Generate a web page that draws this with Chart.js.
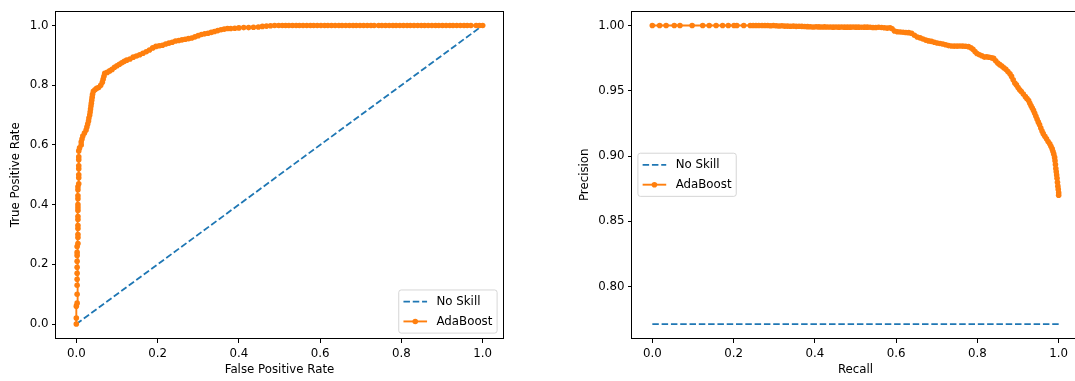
<!DOCTYPE html>
<html>
<head>
<meta charset="utf-8">
<script src="https://cdn.jsdelivr.net/npm/chart.js@4.4.1/dist/chart.umd.min.js"></script>
<style>
    html, body { margin: 0; padding: 0; background: #fff; overflow: hidden; width: 1075px; height: 381px; position: relative; }
    canvas { position: absolute; top: 0; }
    #rocChart { left: 0; }
    #prChart { left: 576px; }
</style>
</head>
<body>
<canvas id="rocChart" width="540" height="381"></canvas>
<canvas id="prChart" width="540" height="381"></canvas>
<script>
// Curva ROC (AdaBoost)
const rocFpr = [
    0, 0, 0, 0.002, 0.002, 0.002, 0.002, 0.002, 0.002, 0.002, 0.002, 0.002, 0.002,
    0.004, 0.004, 0.004, 0.004, 0.004, 0.004, 0.004, 0.004, 0.004, 0.004, 0.004, 0.004, 0.004, 0.004,
    0.006, 0.006, 0.006, 0.006, 0.006, 0.006, 0.006, 0.006,
    0.008, 0.012, 0.012, 0.014, 0.016, 0.020, 0.024, 0.026, 0.028, 0.030, 0.031, 0.033, 0.034, 0.035,
    0.036, 0.037, 0.038, 0.039, 0.040, 0.042, 0.046, 0.050, 0.055, 0.060, 0.064, 0.066, 0.068, 0.070,
    0.076, 0.082, 0.088, 0.094, 0.100, 0.106, 0.112, 0.118, 0.124, 0.132, 0.140, 0.148, 0.156, 0.164,
    0.172, 0.180, 0.188, 0.196, 0.204, 0.212, 0.220, 0.228, 0.236, 0.244, 0.252, 0.260, 0.268, 0.276,
    0.284, 0.292, 0.300, 0.308, 0.316, 0.324, 0.332, 0.340, 0.348, 0.356, 0.364, 0.372, 0.380, 0.390,
    0.400, 0.412, 0.424, 0.436, 0.448, 0.458, 0.468, 0.478, 0.488, 0.498,
    0.507, 0.515, 0.523, 0.532, 0.541, 0.549, 0.558, 0.567, 0.576, 0.584, 0.593, 0.602, 0.611, 0.619,
    0.628, 0.637, 0.646, 0.654, 0.663, 0.672, 0.681, 0.689, 0.698, 0.707, 0.716, 0.725, 0.733,
    0.744, 0.752, 0.761, 0.770, 0.779, 0.787, 0.796, 0.805, 0.814, 0.822, 0.831, 0.840, 0.849, 0.857,
    0.866, 0.875, 0.884, 0.892, 0.901, 0.910, 0.919, 0.927, 0.936, 0.945, 0.954, 0.962, 0.971,
    0.984, 0.992, 1.0
];
const rocTpr = [
    0, 0.02, 0.06, 0.07, 0.10, 0.13, 0.15, 0.17, 0.19, 0.21, 0.23, 0.24, 0.26,
    0.27, 0.29, 0.30, 0.32, 0.33, 0.35, 0.36, 0.38, 0.39, 0.40, 0.42, 0.43, 0.45, 0.46,
    0.47, 0.49, 0.50, 0.52, 0.53, 0.55, 0.56, 0.58,
    0.59, 0.60, 0.61, 0.62, 0.63, 0.64, 0.65, 0.66, 0.67, 0.68, 0.69, 0.70, 0.71, 0.72,
    0.73, 0.74, 0.75, 0.76, 0.77, 0.78, 0.785, 0.79, 0.792, 0.80, 0.81, 0.82, 0.83, 0.84,
    0.843, 0.848, 0.853, 0.860, 0.865, 0.870, 0.875, 0.880, 0.884, 0.888, 0.894, 0.898, 0.902, 0.907,
    0.912, 0.918, 0.925, 0.930, 0.932, 0.934, 0.938, 0.941, 0.944, 0.948, 0.950, 0.952, 0.954, 0.956,
    0.958, 0.962, 0.966, 0.970, 0.972, 0.974, 0.977, 0.980, 0.983, 0.986, 0.988, 0.990, 0.990, 0.991,
    0.992, 0.993, 0.993, 0.994, 0.995, 0.997, 0.998, 0.999, 1, 1,
    1, 1, 1, 1, 1, 1, 1, 1, 1, 1, 1, 1, 1, 1,
    1, 1, 1, 1, 1, 1, 1, 1, 1, 1, 1, 1, 1,
    1, 1, 1, 1, 1, 1, 1, 1, 1, 1, 1, 1, 1, 1,
    1, 1, 1, 1, 1, 1, 1, 1, 1, 1, 1, 1, 1,
    1, 1, 1
];

// Curva Precision-Recall (AdaBoost)
const prRecall = [
    0, 0.018, 0.034, 0.054, 0.068, 0.098, 0.124, 0.140, 0.157, 0.173, 0.187, 0.201, 0.208, 0.225, 0.241,
    0.248, 0.255, 0.262, 0.270, 0.277, 0.284, 0.291, 0.298, 0.305, 0.312, 0.319, 0.326, 0.333, 0.340,
    0.347, 0.354, 0.361, 0.368, 0.375, 0.382, 0.389, 0.396, 0.403, 0.410, 0.417, 0.424, 0.431, 0.438,
    0.445, 0.452, 0.459, 0.466, 0.473, 0.480, 0.487, 0.494, 0.501, 0.508, 0.515, 0.522, 0.529, 0.536,
    0.543, 0.550, 0.557, 0.564, 0.571, 0.578, 0.585, 0.590, 0.596, 0.603, 0.610, 0.617, 0.624, 0.631,
    0.638, 0.645, 0.652, 0.659, 0.666, 0.673, 0.680, 0.687, 0.694, 0.701, 0.708, 0.715, 0.722, 0.729,
    0.736, 0.743, 0.750, 0.757, 0.764, 0.771, 0.778, 0.784, 0.789, 0.794, 0.799, 0.805, 0.811, 0.817,
    0.823, 0.829, 0.835, 0.840, 0.845, 0.850, 0.855, 0.860, 0.865, 0.870, 0.875, 0.880, 0.884, 0.888,
    0.892, 0.896, 0.900, 0.904, 0.908, 0.913, 0.918, 0.922, 0.926, 0.929, 0.932, 0.935, 0.938, 0.941,
    0.944, 0.947, 0.950, 0.953, 0.956, 0.959, 0.962, 0.966, 0.970, 0.974, 0.978, 0.981, 0.984, 0.986,
    0.988, 0.990, 0.991, 0.992, 0.993, 0.994, 0.995, 0.996, 0.997, 0.998, 0.999, 1.0, 1.0
];
const prPrecision = [
    1, 1, 1, 1, 1, 1, 1, 1, 1, 1, 1, 1, 1, 1, 1,
    1, 1, 1, 1, 1, 1, 0.9998, 1, 0.9998, 0.9996, 0.9998, 0.9995, 0.9995, 0.9994,
    0.9995, 0.9993, 0.9994, 0.9993, 0.9992, 0.9991, 0.9990, 0.9988, 0.9990, 0.9989, 0.9988, 0.9989, 0.9988, 0.9988,
    0.9987, 0.9988, 0.9987, 0.9988, 0.9987, 0.9987, 0.9987, 0.9988, 0.9987, 0.9987, 0.9986, 0.9987, 0.9987, 0.9986,
    0.9985, 0.9985, 0.9986, 0.9984, 0.9983, 0.9980, 0.9983, 0.9975, 0.9958, 0.9952, 0.9950, 0.9948, 0.9946, 0.9945,
    0.9940, 0.9925, 0.9912, 0.9905, 0.9896, 0.9888, 0.9882, 0.9878, 0.9872, 0.9866, 0.9862, 0.9858, 0.9852, 0.9846,
    0.9843, 0.9842, 0.9842, 0.9843, 0.9842, 0.9841, 0.9838, 0.9830, 0.9818, 0.9800, 0.9786, 0.9776, 0.9768, 0.9758,
    0.9760, 0.9757, 0.9752, 0.9748, 0.9730, 0.9712, 0.9700, 0.9690, 0.9676, 0.9664, 0.9648, 0.9630, 0.9610, 0.9585,
    0.9560, 0.9545, 0.9525, 0.9508, 0.9495, 0.9475, 0.9455, 0.9440, 0.9425, 0.9405, 0.9385, 0.9368, 0.9350, 0.9328,
    0.9305, 0.9282, 0.9260, 0.9240, 0.9215, 0.9192, 0.9172, 0.9152, 0.9132, 0.9112, 0.9095, 0.9075, 0.9055, 0.9035,
    0.9015, 0.8990, 0.8965, 0.8935, 0.8905, 0.8880, 0.8855, 0.8830, 0.8800, 0.8770, 0.8745, 0.8720, 0.8700
];

// Linhas "No Skill"
const noSkillRocX = [0, 1];
const noSkillRocY = [0, 1];
const noSkillPrX = [0, 1];
const noSkillPrY = [0.7714, 0.7714];

// Marcas dos eixos
const rocTicks = [0, 0.2, 0.4, 0.6, 0.8, 1.0];
const recallTicks = [0, 0.2, 0.4, 0.6, 0.8, 1.0];
const precisionTicks = [0.80, 0.85, 0.90, 0.95, 1.00];

const LABEL_NO_SKILL = 'No Skill';
const LABEL_MODELO = 'AdaBoost';

// Configuração dos gráficos
const FS = 11.8;
Chart.defaults.font.family = "'DejaVu Sans', sans-serif";
Chart.defaults.font.size = FS;
Chart.defaults.color = '#000';

const AZUL = '#1f77b4';
const LARANJA = '#ff7f0e';

const pontos = (xs, ys) => xs.map((x, i) => ({ x, y: ys[i] }));

// Moldura (quatro lados) + legenda no estilo matplotlib
const molduraLegenda = {
    id: 'molduraLegenda',
    afterDatasetsDraw(chart, args, opts) {
        const ctx = chart.ctx;
        const a = chart.chartArea;
        ctx.save();
        ctx.strokeStyle = '#000';
        ctx.lineWidth = 1;
        ctx.strokeRect(Math.round(a.left) - 0.5, Math.round(a.top) + 0.5,
            Math.round(a.right - a.left) + 1, Math.round(a.bottom - a.top) - 1);

        ctx.font = FS + "px 'DejaVu Sans'";
        const itens = chart.data.datasets;
        const textoW = Math.max(...itens.map(d => ctx.measureText(d.label).width));
        const pad = 0.4 * FS, handle = 2 * FS, gap = 0.8 * FS, linhaH = 13.9, esp = 0.5 * FS;
        const w = pad * 2 + handle + gap + textoW;
        const h = pad * 2 + linhaH * itens.length + esp * (itens.length - 1);
        let x, y;
        if (opts.loc === 'lower right') {
            x = a.right - 0.5 * FS - w;
            y = a.bottom - 0.5 * FS - h;
        } else {
            x = a.left + 0.5 * FS;
            y = (a.top + a.bottom) / 2 - h / 2;
        }
        ctx.beginPath();
        ctx.roundRect(x, y, w, h, 2.5);
        ctx.fillStyle = 'rgba(255,255,255,0.8)';
        ctx.fill();
        ctx.strokeStyle = 'rgba(204,204,204,0.8)';
        ctx.stroke();

        itens.forEach((d, i) => {
            const cy = y + pad + linhaH / 2 + i * (linhaH + esp);
            const x0 = x + pad, x1 = x0 + handle;
            ctx.beginPath();
            ctx.setLineDash(d.borderDash || []);
            ctx.strokeStyle = d.borderColor;
            ctx.lineWidth = d.borderWidth;
            ctx.moveTo(x0, cy);
            ctx.lineTo(x1, cy);
            ctx.stroke();
            ctx.setLineDash([]);
            if (d.pointRadius > 0) {
                ctx.beginPath();
                ctx.arc((x0 + x1) / 2, cy, d.pointRadius, 0, Math.PI * 2);
                ctx.fillStyle = d.pointBackgroundColor;
                ctx.fill();
            }
            ctx.fillStyle = '#000';
            ctx.textBaseline = 'middle';
            ctx.textAlign = 'left';
            ctx.fillText(d.label, x1 + gap, cy + 0.5);
        });
        ctx.restore();
    }
};

// Eixo linear com marcas para fora, como no matplotlib
const eixo = (min, max, ticks, casas, titulo, horizontal, tituloPad) => ({
    type: 'linear',
    min: min,
    max: max,
    afterBuildTicks: (s) => { s.ticks = ticks.map(v => ({ value: v })); },
    afterFit: (s) => {
        if (horizontal) s.height = 42; else s.width = 56;
    },
    ticks: {
        callback: (v) => Number(v).toFixed(casas),
        padding: 3.5,
        color: '#000',
        autoSkip: false,
        maxRotation: 0
    },
    grid: {
        display: true,
        drawOnChartArea: false,
        drawTicks: true,
        tickLength: 4,
        color: '#000',
        lineWidth: 1
    },
    border: { display: false },
    title: {
        display: true,
        text: titulo,
        color: '#000',
        padding: tituloPad
    }
});

const serieNoSkill = (dados) => ({
    label: LABEL_NO_SKILL,
    data: dados,
    showLine: true,
    borderColor: AZUL,
    backgroundColor: AZUL,
    borderWidth: 1.8,
    borderDash: [6.5, 2.8],
    pointRadius: 0,
    tension: 0,
    order: 1
});

const serieModelo = (dados) => ({
    label: LABEL_MODELO,
    data: dados,
    showLine: true,
    borderColor: LARANJA,
    backgroundColor: LARANJA,
    borderWidth: 1.9,
    pointRadius: 2.8,
    pointBorderWidth: 0,
    pointBackgroundColor: LARANJA,
    pointHoverRadius: 2.8,
    tension: 0,
    order: 0
});

const opcoesBase = (escalas, loc) => ({
    responsive: false,
    animation: false,
    events: [],
    devicePixelRatio: 1,
    layout: { padding: { left: 0, right: 37, top: 7, bottom: 0 } },
    plugins: {
        legend: { display: false },
        tooltip: { enabled: false },
        molduraLegenda: { loc: loc }
    },
    scales: escalas
});

// Gráfico ROC
new Chart(document.getElementById('rocChart').getContext('2d'), {
    type: 'scatter',
    data: {
        datasets: [
            serieNoSkill(pontos(noSkillRocX, noSkillRocY)),
            serieModelo(pontos(rocFpr, rocTpr))
        ]
    },
    options: opcoesBase({
        x: eixo(-0.05, 1.05, rocTicks, 1, 'False Positive Rate', true, { top: 0, bottom: 3.9 }),
        y: eixo(-0.05, 1.05, rocTicks, 1, 'True Positive Rate', false, { top: 8.4, bottom: 0 })
    }, 'lower right'),
    plugins: [molduraLegenda]
});

// Gráfico Precision-Recall
new Chart(document.getElementById('prChart').getContext('2d'), {
    type: 'scatter',
    data: {
        datasets: [
            serieNoSkill(pontos(noSkillPrX, noSkillPrY)),
            serieModelo(pontos(prRecall, prPrecision))
        ]
    },
    options: opcoesBase({
        x: eixo(-0.05, 1.05, recallTicks, 1, 'Recall', true, { top: 0, bottom: 3.9 }),
        y: eixo(0.7600, 1.0114, precisionTicks, 2, 'Precision', false, { top: 1.9, bottom: 0 })
    }, 'center left'),
    plugins: [molduraLegenda]
});
</script>
</body>
</html>
